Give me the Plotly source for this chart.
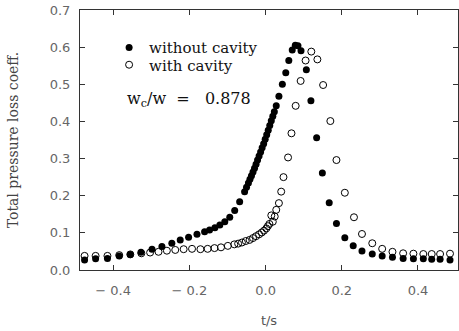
import plotly.graph_objects as go

# Filled circles: without cavity
fx = [-0.475, -0.446, -0.415, -0.384, -0.355, -0.327, -0.298, -0.272, -0.246, -0.224,
      -0.202, -0.180, -0.160, -0.147, -0.133, -0.120, -0.107, -0.094, -0.081, -0.068,
      -0.055, -0.050, -0.045, -0.041, -0.037, -0.033, -0.029, -0.025, -0.021, -0.017,
      -0.013, -0.009, -0.005, -0.001, 0.003, 0.007, 0.011, 0.015, 0.019, 0.023,
      0.028, 0.035, 0.044, 0.053, 0.061, 0.070, 0.078, 0.085, 0.093, 0.107,
      0.119, 0.134, 0.149, 0.167, 0.186, 0.208, 0.230, 0.253, 0.280, 0.306,
      0.333, 0.361, 0.388, 0.414, 0.436, 0.458, 0.484]
fy = [0.027, 0.030, 0.031, 0.038, 0.042, 0.048, 0.056, 0.063, 0.072, 0.081,
      0.088, 0.096, 0.103, 0.108, 0.114, 0.121, 0.130, 0.142, 0.160, 0.184,
      0.211, 0.223, 0.234, 0.244, 0.254, 0.264, 0.274, 0.285, 0.296, 0.307,
      0.318, 0.329, 0.340, 0.352, 0.364, 0.376, 0.389, 0.402, 0.414, 0.426,
      0.442, 0.468, 0.500, 0.531, 0.564, 0.592, 0.605, 0.604, 0.590, 0.539,
      0.456, 0.356, 0.261, 0.181, 0.125, 0.087, 0.065, 0.051, 0.043, 0.038,
      0.034, 0.031, 0.030, 0.030, 0.029, 0.029, 0.027]

# Open circles: with cavity
ox = [-0.475, -0.446, -0.415, -0.384, -0.355, -0.326, -0.303, -0.281, -0.259, -0.237,
      -0.215, -0.193, -0.171, -0.152, -0.134, -0.117, -0.099, -0.082, -0.072, -0.062,
      -0.052, -0.042, -0.033, -0.025, -0.017, -0.010, -0.004, 0.002, 0.006, 0.010,
      0.015, 0.019, 0.024, 0.028, 0.035, 0.041, 0.047, 0.059, 0.068, 0.079,
      0.092, 0.105, 0.120, 0.136, 0.151, 0.170, 0.186, 0.208, 0.232, 0.253,
      0.280, 0.306, 0.333, 0.361, 0.388, 0.414, 0.436, 0.458, 0.484]
oy = [0.038, 0.038, 0.038, 0.040, 0.042, 0.045, 0.047, 0.049, 0.052, 0.054,
      0.056, 0.057, 0.056, 0.057, 0.059, 0.061, 0.065, 0.069, 0.071, 0.074,
      0.078, 0.081, 0.086, 0.091, 0.096, 0.101, 0.106, 0.112, 0.118, 0.124,
      0.147, 0.130, 0.144, 0.162, 0.180, 0.211, 0.250, 0.303, 0.368, 0.442,
      0.509, 0.564, 0.588, 0.567, 0.498, 0.401, 0.296, 0.208, 0.142, 0.097,
      0.072, 0.057, 0.049, 0.045, 0.044, 0.043, 0.043, 0.043, 0.044]

x_ticks = [-0.4, -0.2, 0.0, 0.2, 0.4]
x_labels = ["\u2212 0.4", "\u2212 0.2", "0.0", "0.2", "0.4"]
y_ticks = [0.0, 0.1, 0.2, 0.3, 0.4, 0.5, 0.6, 0.7]
y_labels = ["0.0", "0.1", "0.2", "0.3", "0.4", "0.5", "0.6", "0.7"]

legfont = dict(family="DejaVu Serif", size=15, color="#111111")

fig = go.Figure()
fig.add_trace(go.Scatter(
    x=ox, y=oy, mode="markers", name="with cavity", legend="legend2",
    marker=dict(symbol="circle-open", size=7, color="black", line=dict(width=1)),
))
fig.add_trace(go.Scatter(
    x=fx, y=fy, mode="markers", name="without cavity", legend="legend",
    marker=dict(symbol="circle", size=7, color="black"),
))

tickfont = dict(family="DejaVu Sans", size=13, color="#666666")
fig.update_layout(
    width=459, height=331,
    margin=dict(l=80, r=1, t=10, b=61),
    paper_bgcolor="white", plot_bgcolor="white",
    showlegend=True,
    legend=dict(
        x=0.077, y=0.918, xanchor="left", yanchor="top",
        font=legfont, bgcolor="rgba(0,0,0,0)", itemwidth=30,
    ),
    legend2=dict(
        x=0.077, y=0.852, xanchor="left", yanchor="top",
        font=legfont, bgcolor="rgba(0,0,0,0)", itemwidth=30,
    ),
    xaxis=dict(
        range=[-0.487, 0.505], tickvals=x_ticks, ticktext=x_labels,
        ticks="inside", ticklen=5, tickcolor="#333333",
        showline=True, linecolor="#333333", linewidth=1, mirror="ticks",
        showgrid=False, zeroline=False, tickfont=tickfont,
        ticklabelstandoff=8,
        title=dict(text="t/s", font=dict(family="DejaVu Sans", size=13, color="#555555"), standoff=19),
    ),
    yaxis=dict(
        range=[0.0, 0.7], tickvals=y_ticks, ticktext=y_labels,
        ticks="inside", ticklen=5, tickcolor="#333333",
        showline=True, linecolor="#333333", linewidth=1, mirror="ticks",
        showgrid=False, zeroline=False, tickfont=tickfont,
        ticklabelstandoff=6,
        title=dict(text="Total pressure loss coeff.",
                   font=dict(family="DejaVu Serif", size=14, color="#444444"), standoff=27),
    ),
)
fig.add_annotation(
    xref="paper", yref="paper", x=0.118, y=0.655, xanchor="left", yanchor="middle",
    text="w<sub>c</sub>/w&nbsp; =&nbsp;&nbsp; 0.878", showarrow=False,
    font=dict(family="DejaVu Serif", size=16, color="#111111"),
)
fig.write_html("out.html")
